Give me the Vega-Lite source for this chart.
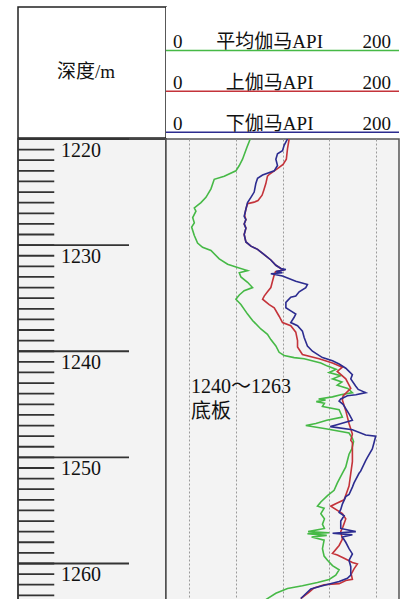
{
  "$schema": "https://vega.github.io/schema/vega-lite/v6.json",
  "padding": {"left": 16, "top": 6, "right": 2, "bottom": 0},
  "background": "white",
  "spacing": -2,
  "config": {
    "view": {"stroke": "#333", "strokeWidth": 1.5},
    "concat": {"spacing": 0},
    "text": {"font": "Liberation Serif, Noto Sans CJK SC", "color": "#111"}
  },
  "datasets": {
    "headers": [
      {"curve": "平均伽马API", "min": 0, "max": 200},
      {"curve": "上伽马API", "min": 0, "max": 200},
      {"curve": "下伽马API", "min": 0, "max": 200}
    ],
    "ticks": [
      {"depth": 1220}, {"depth": 1221}, {"depth": 1222}, {"depth": 1223}, {"depth": 1224}, {"depth": 1225}, {"depth": 1226}, {"depth": 1227}, {"depth": 1228}, {"depth": 1229},
      {"depth": 1230}, {"depth": 1231}, {"depth": 1232}, {"depth": 1233}, {"depth": 1234}, {"depth": 1235}, {"depth": 1236}, {"depth": 1237}, {"depth": 1238}, {"depth": 1239},
      {"depth": 1240}, {"depth": 1241}, {"depth": 1242}, {"depth": 1243}, {"depth": 1244}, {"depth": 1245}, {"depth": 1246}, {"depth": 1247}, {"depth": 1248}, {"depth": 1249},
      {"depth": 1250}, {"depth": 1251}, {"depth": 1252}, {"depth": 1253}, {"depth": 1254}, {"depth": 1255}, {"depth": 1256}, {"depth": 1257}, {"depth": 1258}, {"depth": 1259},
      {"depth": 1260}, {"depth": 1261}, {"depth": 1262}, {"depth": 1263}
    ],
    "curves": [
      {"curve": "平均伽马API", "depth": 1220.0, "api": 72.3},
      {"curve": "平均伽马API", "depth": 1220.8, "api": 69.4},
      {"curve": "平均伽马API", "depth": 1221.9, "api": 65.7},
      {"curve": "平均伽马API", "depth": 1222.5, "api": 62.9},
      {"curve": "平均伽马API", "depth": 1223.0, "api": 60.0},
      {"curve": "平均伽马API", "depth": 1223.5, "api": 50.0},
      {"curve": "平均伽马API", "depth": 1223.8, "api": 41.4},
      {"curve": "平均伽马API", "depth": 1224.7, "api": 38.6},
      {"curve": "平均伽马API", "depth": 1225.5, "api": 34.3},
      {"curve": "平均伽马API", "depth": 1226.0, "api": 30.0},
      {"curve": "平均伽马API", "depth": 1226.5, "api": 24.3},
      {"curve": "平均伽马API", "depth": 1226.8, "api": 25.7},
      {"curve": "平均伽马API", "depth": 1227.4, "api": 22.9},
      {"curve": "平均伽马API", "depth": 1227.9, "api": 24.3},
      {"curve": "平均伽马API", "depth": 1228.3, "api": 22.0},
      {"curve": "平均伽马API", "depth": 1229.1, "api": 24.3},
      {"curve": "平均伽马API", "depth": 1229.8, "api": 27.1},
      {"curve": "平均伽马API", "depth": 1230.2, "api": 31.4},
      {"curve": "平均伽马API", "depth": 1230.5, "api": 38.6},
      {"curve": "平均伽马API", "depth": 1231.3, "api": 45.7},
      {"curve": "平均伽马API", "depth": 1231.8, "api": 52.9},
      {"curve": "平均伽马API", "depth": 1232.1, "api": 61.4},
      {"curve": "平均伽马API", "depth": 1232.4, "api": 70.0},
      {"curve": "平均伽马API", "depth": 1232.6, "api": 62.9},
      {"curve": "平均伽马API", "depth": 1233.0, "api": 64.3},
      {"curve": "平均伽马API", "depth": 1233.5, "api": 70.0},
      {"curve": "平均伽马API", "depth": 1234.0, "api": 74.3},
      {"curve": "平均伽马API", "depth": 1234.3, "api": 67.1},
      {"curve": "平均伽马API", "depth": 1234.7, "api": 62.9},
      {"curve": "平均伽马API", "depth": 1235.1, "api": 60.0},
      {"curve": "平均伽马API", "depth": 1235.6, "api": 64.3},
      {"curve": "平均伽马API", "depth": 1236.5, "api": 70.0},
      {"curve": "平均伽马API", "depth": 1237.1, "api": 74.3},
      {"curve": "平均伽马API", "depth": 1237.9, "api": 81.4},
      {"curve": "平均伽马API", "depth": 1238.4, "api": 87.1},
      {"curve": "平均伽马API", "depth": 1238.9, "api": 90.0},
      {"curve": "平均伽马API", "depth": 1239.5, "api": 94.3},
      {"curve": "平均伽马API", "depth": 1240.1, "api": 97.1},
      {"curve": "平均伽马API", "depth": 1240.4, "api": 101.4},
      {"curve": "平均伽马API", "depth": 1240.6, "api": 110.0},
      {"curve": "平均伽马API", "depth": 1240.7, "api": 118.6},
      {"curve": "平均伽马API", "depth": 1241.1, "api": 132.9},
      {"curve": "平均伽马API", "depth": 1241.4, "api": 138.6},
      {"curve": "平均伽马API", "depth": 1241.7, "api": 146.0},
      {"curve": "平均伽马API", "depth": 1242.0, "api": 140.0},
      {"curve": "平均伽马API", "depth": 1242.3, "api": 150.0},
      {"curve": "平均伽马API", "depth": 1242.6, "api": 143.0},
      {"curve": "平均伽马API", "depth": 1242.9, "api": 151.0},
      {"curve": "平均伽马API", "depth": 1243.2, "api": 147.0},
      {"curve": "平均伽马API", "depth": 1243.5, "api": 156.0},
      {"curve": "平均伽马API", "depth": 1243.9, "api": 160.0},
      {"curve": "平均伽马API", "depth": 1244.1, "api": 150.0},
      {"curve": "平均伽马API", "depth": 1244.3, "api": 142.9},
      {"curve": "平均伽马API", "depth": 1244.5, "api": 131.0},
      {"curve": "平均伽马API", "depth": 1244.6, "api": 137.0},
      {"curve": "平均伽马API", "depth": 1244.75, "api": 129.0},
      {"curve": "平均伽马API", "depth": 1244.9, "api": 136.0},
      {"curve": "平均伽马API", "depth": 1245.2, "api": 134.3},
      {"curve": "平均伽马API", "depth": 1245.5, "api": 148.6},
      {"curve": "平均伽马API", "depth": 1246.2, "api": 151.4},
      {"curve": "平均伽马API", "depth": 1246.5, "api": 138.0},
      {"curve": "平均伽马API", "depth": 1246.8, "api": 128.6},
      {"curve": "平均伽马API", "depth": 1247.0, "api": 120.0},
      {"curve": "平均伽马API", "depth": 1247.3, "api": 137.1},
      {"curve": "平均伽马API", "depth": 1247.7, "api": 157.1},
      {"curve": "平均伽马API", "depth": 1248.2, "api": 160.0},
      {"curve": "平均伽马API", "depth": 1248.5, "api": 161.0},
      {"curve": "平均伽马API", "depth": 1249.2, "api": 159.5},
      {"curve": "平均伽马API", "depth": 1249.7, "api": 157.1},
      {"curve": "平均伽马API", "depth": 1250.9, "api": 154.3},
      {"curve": "平均伽马API", "depth": 1251.8, "api": 150.0},
      {"curve": "平均伽马API", "depth": 1252.4, "api": 147.1},
      {"curve": "平均伽马API", "depth": 1253.1, "api": 144.3},
      {"curve": "平均伽马API", "depth": 1253.6, "api": 138.6},
      {"curve": "平均伽马API", "depth": 1254.2, "api": 132.9},
      {"curve": "平均伽马API", "depth": 1254.6, "api": 130.0},
      {"curve": "平均伽马API", "depth": 1254.8, "api": 135.7},
      {"curve": "平均伽马API", "depth": 1255.3, "api": 132.9},
      {"curve": "平均伽马API", "depth": 1255.8, "api": 136.0},
      {"curve": "平均伽马API", "depth": 1256.3, "api": 134.3},
      {"curve": "平均伽马API", "depth": 1256.7, "api": 136.0},
      {"curve": "平均伽马API", "depth": 1257.0, "api": 122.0},
      {"curve": "平均伽马API", "depth": 1257.1, "api": 140.0},
      {"curve": "平均伽马API", "depth": 1257.2, "api": 121.4},
      {"curve": "平均伽马API", "depth": 1257.35, "api": 138.0},
      {"curve": "平均伽马API", "depth": 1257.5, "api": 125.0},
      {"curve": "平均伽马API", "depth": 1257.8, "api": 135.7},
      {"curve": "平均伽马API", "depth": 1258.6, "api": 134.3},
      {"curve": "平均伽马API", "depth": 1259.3, "api": 135.7},
      {"curve": "平均伽马API", "depth": 1259.7, "api": 138.6},
      {"curve": "平均伽马API", "depth": 1260.2, "api": 142.9},
      {"curve": "平均伽马API", "depth": 1260.6, "api": 148.6},
      {"curve": "平均伽马API", "depth": 1261.1, "api": 145.7},
      {"curve": "平均伽马API", "depth": 1261.5, "api": 140.0},
      {"curve": "平均伽马API", "depth": 1261.8, "api": 130.0},
      {"curve": "平均伽马API", "depth": 1262.1, "api": 117.1},
      {"curve": "平均伽马API", "depth": 1262.35, "api": 104.3},
      {"curve": "平均伽马API", "depth": 1262.8, "api": 94.3},
      {"curve": "平均伽马API", "depth": 1263.4, "api": 85.7},

      {"curve": "上伽马API", "depth": 1220.0, "api": 105.7},
      {"curve": "上伽马API", "depth": 1220.9, "api": 104.3},
      {"curve": "上伽马API", "depth": 1221.9, "api": 103.3},
      {"curve": "上伽马API", "depth": 1222.4, "api": 100.5},
      {"curve": "上伽马API", "depth": 1222.8, "api": 95.7},
      {"curve": "上伽马API", "depth": 1223.3, "api": 89.0},
      {"curve": "上伽马API", "depth": 1223.5, "api": 87.1},
      {"curve": "上伽马API", "depth": 1224.2, "api": 85.7},
      {"curve": "上伽马API", "depth": 1224.8, "api": 84.0},
      {"curve": "上伽马API", "depth": 1225.3, "api": 82.5},
      {"curve": "上伽马API", "depth": 1225.8, "api": 79.0},
      {"curve": "上伽马API", "depth": 1225.95, "api": 75.7},
      {"curve": "上伽马API", "depth": 1226.1, "api": 70.0},
      {"curve": "上伽马API", "depth": 1226.6, "api": 68.6},
      {"curve": "上伽马API", "depth": 1227.2, "api": 67.5},
      {"curve": "上伽马API", "depth": 1227.6, "api": 68.6},
      {"curve": "上伽马API", "depth": 1228.0, "api": 67.1},
      {"curve": "上伽马API", "depth": 1228.4, "api": 68.6},
      {"curve": "上伽马API", "depth": 1229.0, "api": 67.1},
      {"curve": "上伽马API", "depth": 1229.7, "api": 68.6},
      {"curve": "上伽马API", "depth": 1230.1, "api": 72.9},
      {"curve": "上伽马API", "depth": 1230.4, "api": 78.6},
      {"curve": "上伽马API", "depth": 1230.9, "api": 84.3},
      {"curve": "上伽马API", "depth": 1231.4, "api": 90.0},
      {"curve": "上伽马API", "depth": 1231.9, "api": 94.3},
      {"curve": "上伽马API", "depth": 1232.2, "api": 98.6},
      {"curve": "上伽马API", "depth": 1232.35, "api": 100.5},
      {"curve": "上伽马API", "depth": 1232.5, "api": 94.0},
      {"curve": "上伽马API", "depth": 1232.8, "api": 92.9},
      {"curve": "上伽马API", "depth": 1233.4, "api": 91.4},
      {"curve": "上伽马API", "depth": 1234.0, "api": 90.0},
      {"curve": "上伽马API", "depth": 1234.4, "api": 87.1},
      {"curve": "上伽马API", "depth": 1234.8, "api": 84.3},
      {"curve": "上伽马API", "depth": 1235.1, "api": 82.9},
      {"curve": "上伽马API", "depth": 1235.6, "api": 88.6},
      {"curve": "上伽马API", "depth": 1235.9, "api": 92.9},
      {"curve": "上伽马API", "depth": 1236.7, "api": 97.1},
      {"curve": "上伽马API", "depth": 1237.3, "api": 100.0},
      {"curve": "上伽马API", "depth": 1237.6, "api": 107.1},
      {"curve": "上伽马API", "depth": 1238.2, "api": 111.4},
      {"curve": "上伽马API", "depth": 1239.0, "api": 112.9},
      {"curve": "上伽马API", "depth": 1239.6, "api": 112.9},
      {"curve": "上伽马API", "depth": 1240.3, "api": 117.1},
      {"curve": "上伽马API", "depth": 1240.7, "api": 131.4},
      {"curve": "上伽马API", "depth": 1241.1, "api": 142.9},
      {"curve": "上伽马API", "depth": 1241.5, "api": 151.4},
      {"curve": "上伽马API", "depth": 1241.9, "api": 147.0},
      {"curve": "上伽马API", "depth": 1242.6, "api": 154.3},
      {"curve": "上伽马API", "depth": 1243.5, "api": 158.6},
      {"curve": "上伽马API", "depth": 1244.2, "api": 152.0},
      {"curve": "上伽马API", "depth": 1244.6, "api": 151.4},
      {"curve": "上伽马API", "depth": 1245.6, "api": 154.3},
      {"curve": "上伽马API", "depth": 1246.8, "api": 157.1},
      {"curve": "上伽马API", "depth": 1247.8, "api": 160.0},
      {"curve": "上伽马API", "depth": 1248.4, "api": 158.6},
      {"curve": "上伽马API", "depth": 1248.6, "api": 160.0},
      {"curve": "上伽马API", "depth": 1250.4, "api": 160.0},
      {"curve": "上伽马API", "depth": 1251.5, "api": 158.6},
      {"curve": "上伽马API", "depth": 1252.7, "api": 157.1},
      {"curve": "上伽马API", "depth": 1254.0, "api": 152.9},
      {"curve": "上伽马API", "depth": 1254.3, "api": 147.0},
      {"curve": "上伽马API", "depth": 1254.6, "api": 141.4},
      {"curve": "上伽马API", "depth": 1255.0, "api": 147.1},
      {"curve": "上伽马API", "depth": 1255.3, "api": 151.4},
      {"curve": "上伽马API", "depth": 1255.8, "api": 154.3},
      {"curve": "上伽马API", "depth": 1256.5, "api": 152.0},
      {"curve": "上伽马API", "depth": 1257.0, "api": 150.0},
      {"curve": "上伽马API", "depth": 1257.7, "api": 151.4},
      {"curve": "上伽马API", "depth": 1258.3, "api": 148.6},
      {"curve": "上伽马API", "depth": 1259.05, "api": 142.9},
      {"curve": "上伽马API", "depth": 1259.2, "api": 147.1},
      {"curve": "上伽马API", "depth": 1259.5, "api": 152.9},
      {"curve": "上伽马API", "depth": 1259.9, "api": 160.0},
      {"curve": "上伽马API", "depth": 1260.05, "api": 164.3},
      {"curve": "上伽马API", "depth": 1260.5, "api": 161.4},
      {"curve": "上伽马API", "depth": 1261.0, "api": 159.0},
      {"curve": "上伽马API", "depth": 1261.5, "api": 160.0},
      {"curve": "上伽马API", "depth": 1261.6, "api": 154.3},
      {"curve": "上伽马API", "depth": 1261.9, "api": 148.6},
      {"curve": "上伽马API", "depth": 1262.0, "api": 135.7},
      {"curve": "上伽马API", "depth": 1262.3, "api": 127.1},
      {"curve": "上伽马API", "depth": 1262.7, "api": 122.9},
      {"curve": "上伽马API", "depth": 1263.3, "api": 115.7},

      {"curve": "下伽马API", "depth": 1220.0, "api": 104.3},
      {"curve": "下伽马API", "depth": 1220.6, "api": 101.4},
      {"curve": "下伽马API", "depth": 1221.1, "api": 100.0},
      {"curve": "下伽马API", "depth": 1221.4, "api": 95.7},
      {"curve": "下伽马API", "depth": 1221.9, "api": 94.3},
      {"curve": "下伽马API", "depth": 1222.5, "api": 95.7},
      {"curve": "下伽马API", "depth": 1223.0, "api": 92.9},
      {"curve": "下伽马API", "depth": 1223.4, "api": 82.9},
      {"curve": "下伽马API", "depth": 1223.7, "api": 78.6},
      {"curve": "下伽马API", "depth": 1224.2, "api": 77.1},
      {"curve": "下伽马API", "depth": 1225.0, "api": 75.7},
      {"curve": "下伽马API", "depth": 1225.5, "api": 72.9},
      {"curve": "下伽马API", "depth": 1226.0, "api": 70.0},
      {"curve": "下伽马API", "depth": 1226.6, "api": 68.6},
      {"curve": "下伽马API", "depth": 1227.3, "api": 67.1},
      {"curve": "下伽马API", "depth": 1227.6, "api": 68.6},
      {"curve": "下伽马API", "depth": 1228.0, "api": 67.1},
      {"curve": "下伽马API", "depth": 1228.4, "api": 68.6},
      {"curve": "下伽马API", "depth": 1229.0, "api": 67.1},
      {"curve": "下伽马API", "depth": 1229.7, "api": 68.6},
      {"curve": "下伽马API", "depth": 1230.1, "api": 72.9},
      {"curve": "下伽马API", "depth": 1230.4, "api": 78.6},
      {"curve": "下伽马API", "depth": 1230.9, "api": 84.3},
      {"curve": "下伽马API", "depth": 1231.4, "api": 90.0},
      {"curve": "下伽马API", "depth": 1231.9, "api": 94.3},
      {"curve": "下伽马API", "depth": 1232.2, "api": 98.6},
      {"curve": "下伽马API", "depth": 1232.3, "api": 102.9},
      {"curve": "下伽马API", "depth": 1232.5, "api": 94.3},
      {"curve": "下伽马API", "depth": 1232.6, "api": 100.0},
      {"curve": "下伽马API", "depth": 1232.7, "api": 90.0},
      {"curve": "下伽马API", "depth": 1232.9, "api": 100.0},
      {"curve": "下伽马API", "depth": 1233.4, "api": 111.4},
      {"curve": "下伽马API", "depth": 1233.7, "api": 121.4},
      {"curve": "下伽马API", "depth": 1234.0, "api": 120.0},
      {"curve": "下伽马API", "depth": 1234.4, "api": 114.3},
      {"curve": "下伽马API", "depth": 1234.8, "api": 111.4},
      {"curve": "下伽马API", "depth": 1234.9, "api": 107.1},
      {"curve": "下伽马API", "depth": 1235.4, "api": 102.9},
      {"curve": "下伽马API", "depth": 1235.9, "api": 102.9},
      {"curve": "下伽马API", "depth": 1236.2, "api": 107.1},
      {"curve": "下伽马API", "depth": 1236.5, "api": 111.4},
      {"curve": "下伽马API", "depth": 1236.8, "api": 110.0},
      {"curve": "下伽马API", "depth": 1237.3, "api": 107.1},
      {"curve": "下伽马API", "depth": 1237.6, "api": 112.9},
      {"curve": "下伽马API", "depth": 1238.1, "api": 117.1},
      {"curve": "下伽马API", "depth": 1238.7, "api": 118.6},
      {"curve": "下伽马API", "depth": 1239.5, "api": 121.4},
      {"curve": "下伽马API", "depth": 1240.0, "api": 125.7},
      {"curve": "下伽马API", "depth": 1240.6, "api": 134.3},
      {"curve": "下伽马API", "depth": 1240.9, "api": 142.9},
      {"curve": "下伽马API", "depth": 1241.2, "api": 148.6},
      {"curve": "下伽马API", "depth": 1241.6, "api": 154.3},
      {"curve": "下伽马API", "depth": 1241.9, "api": 157.1},
      {"curve": "下伽马API", "depth": 1242.2, "api": 160.0},
      {"curve": "下伽马API", "depth": 1242.6, "api": 158.6},
      {"curve": "下伽马API", "depth": 1243.3, "api": 162.9},
      {"curve": "下伽马API", "depth": 1243.6, "api": 165.0},
      {"curve": "下伽马API", "depth": 1243.9, "api": 171.4},
      {"curve": "下伽马API", "depth": 1244.1, "api": 163.0},
      {"curve": "下伽马API", "depth": 1244.2, "api": 155.7},
      {"curve": "下伽马API", "depth": 1244.5, "api": 150.0},
      {"curve": "下伽马API", "depth": 1244.7, "api": 148.6},
      {"curve": "下伽马API", "depth": 1245.0, "api": 152.0},
      {"curve": "下伽马API", "depth": 1245.9, "api": 157.1},
      {"curve": "下伽马API", "depth": 1246.5, "api": 160.0},
      {"curve": "下伽马API", "depth": 1246.95, "api": 146.0},
      {"curve": "下伽马API", "depth": 1247.1, "api": 141.0},
      {"curve": "下伽马API", "depth": 1247.4, "api": 160.0},
      {"curve": "下伽马API", "depth": 1247.9, "api": 171.4},
      {"curve": "下伽马API", "depth": 1248.0, "api": 180.0},
      {"curve": "下伽马API", "depth": 1248.6, "api": 178.6},
      {"curve": "下伽马API", "depth": 1249.2, "api": 177.1},
      {"curve": "下伽马API", "depth": 1250.0, "api": 172.9},
      {"curve": "下伽马API", "depth": 1250.3, "api": 171.4},
      {"curve": "下伽马API", "depth": 1251.3, "api": 167.1},
      {"curve": "下伽马API", "depth": 1251.5, "api": 165.7},
      {"curve": "下伽马API", "depth": 1252.4, "api": 161.4},
      {"curve": "下伽马API", "depth": 1252.8, "api": 160.0},
      {"curve": "下伽马API", "depth": 1253.5, "api": 157.1},
      {"curve": "下伽马API", "depth": 1253.7, "api": 154.3},
      {"curve": "下伽马API", "depth": 1254.4, "api": 151.4},
      {"curve": "下伽马API", "depth": 1254.9, "api": 150.0},
      {"curve": "下伽马API", "depth": 1255.2, "api": 148.6},
      {"curve": "下伽马API", "depth": 1255.5, "api": 152.9},
      {"curve": "下伽马API", "depth": 1256.0, "api": 150.0},
      {"curve": "下伽马API", "depth": 1256.7, "api": 150.0},
      {"curve": "下伽马API", "depth": 1257.0, "api": 162.9},
      {"curve": "下伽马API", "depth": 1257.15, "api": 143.0},
      {"curve": "下伽马API", "depth": 1257.3, "api": 160.0},
      {"curve": "下伽马API", "depth": 1257.5, "api": 151.4},
      {"curve": "下伽马API", "depth": 1258.0, "api": 154.3},
      {"curve": "下伽马API", "depth": 1258.6, "api": 157.1},
      {"curve": "下伽马API", "depth": 1259.1, "api": 160.0},
      {"curve": "下伽马API", "depth": 1259.7, "api": 157.1},
      {"curve": "下伽马API", "depth": 1260.3, "api": 158.6},
      {"curve": "下伽马API", "depth": 1261.1, "api": 158.6},
      {"curve": "下伽马API", "depth": 1261.4, "api": 155.7},
      {"curve": "下伽马API", "depth": 1261.7, "api": 148.6},
      {"curve": "下伽马API", "depth": 1262.1, "api": 134.3},
      {"curve": "下伽马API", "depth": 1262.4, "api": 124.3},
      {"curve": "下伽马API", "depth": 1263.3, "api": 115.7}
    ]
  },
  "vconcat": [
    {
      "spacing": 0,
      "bounds": "flush",
      "hconcat": [
        {
          "width": 148,
          "height": 131,
          "view": {"stroke": "#222", "strokeWidth": 1.5, "fill": "white"},
          "data": {"values": [{"title": "深度/m"}]},
          "mark": {"type": "text", "fontSize": 19, "dx": -6, "dy": -1, "baseline": "middle", "align": "center"},
          "encoding": {"text": {"field": "title"}}
        },
        {
          "width": 233,
          "height": 131,
          "view": {"stroke": null, "fill": "white"},
          "data": {"name": "headers"},
          "encoding": {
            "y": {
              "field": "curve",
              "type": "nominal",
              "sort": ["平均伽马API", "上伽马API", "下伽马API"],
              "bandPosition": 1,
              "scale": {"paddingInner": 0, "paddingOuter": 0.1, "align": 0.3},
              "axis": null
            }
          },
          "layer": [
            {
              "mark": {"type": "rule", "strokeWidth": 1.5},
              "encoding": {
                "x": {"datum": 0, "type": "quantitative", "scale": {"domain": [0, 200], "nice": false}, "axis": null},
                "x2": {"datum": 200},
                "color": {
                  "field": "curve",
                  "type": "nominal",
                  "scale": {"domain": ["平均伽马API", "上伽马API", "下伽马API"], "range": ["#46b946", "#c4333a", "#2c2c90"]},
                  "legend": null
                }
              }
            },
            {
              "mark": {"type": "text", "fontSize": 19, "baseline": "alphabetic", "align": "center", "dy": -2},
              "encoding": {
                "x": {"datum": 89, "type": "quantitative"},
                "text": {"field": "curve"}
              }
            },
            {
              "mark": {"type": "text", "fontSize": 19, "baseline": "alphabetic", "align": "left", "dx": 7, "dy": -2},
              "encoding": {
                "x": {"field": "min", "type": "quantitative"},
                "text": {"field": "min"}
              }
            },
            {
              "mark": {"type": "text", "fontSize": 19, "baseline": "alphabetic", "align": "right", "dx": -8, "dy": -2},
              "encoding": {
                "x": {"field": "max", "type": "quantitative"},
                "text": {"field": "max"}
              }
            }
          ]
        }
      ]
    },
    {
      "spacing": 0,
      "bounds": "flush",
      "hconcat": [
        {
          "width": 148,
          "height": 461,
          "view": {"stroke": "#444", "strokeWidth": 2, "fill": "#f3f3f3"},
          "data": {"name": "ticks"},
          "encoding": {
            "y": {"field": "depth", "type": "quantitative", "scale": {"domain": [1220, 1263.44], "reverse": true, "nice": false, "zero": false}, "axis": null}
          },
          "layer": [
            {
              "mark": {"type": "rule", "color": "#333", "strokeWidth": 1.8},
              "encoding": {
                "x": {"datum": 0, "type": "quantitative", "scale": {"domain": [0, 1], "nice": false}, "axis": null},
                "x2": {"datum": 0.245}
              }
            },
            {
              "transform": [{"filter": "datum.depth % 10 === 0"}],
              "mark": {"type": "rule", "color": "#333", "strokeWidth": 1.8},
              "encoding": {
                "x": {"datum": 0, "type": "quantitative"},
                "x2": {"datum": 0.75}
              }
            },
            {
              "transform": [{"filter": "datum.depth % 10 === 0"}],
              "mark": {"type": "text", "fontSize": 20, "align": "left", "baseline": "middle", "dy": 12},
              "encoding": {
                "x": {"datum": 0.29, "type": "quantitative"},
                "text": {"field": "depth", "type": "quantitative", "format": "d"}
              }
            }
          ]
        },
        {
          "width": 233,
          "height": 461,
          "view": {"stroke": "#555", "strokeWidth": 1.5, "fill": "#f3f3f3"},
          "layer": [
            {
              "data": {"name": "curves"},
              "mark": {"type": "line", "strokeWidth": 1.6, "clip": true},
              "encoding": {
                "x": {
                  "field": "api",
                  "type": "quantitative",
                  "scale": {"domain": [0, 200], "nice": false, "zero": false},
                  "axis": {"orient": "top", "values": [20, 40, 60, 80, 100, 120, 140, 160, 180], "grid": true, "gridDash": [2, 2], "gridColor": "#9a9a9a", "gridWidth": 1, "labels": false, "ticks": false, "domain": false, "title": null}
                },
                "y": {
                  "field": "depth",
                  "type": "quantitative",
                  "scale": {"domain": [1220, 1263.44], "reverse": true, "nice": false, "zero": false},
                  "axis": null
                },
                "color": {
                  "field": "curve",
                  "type": "nominal",
                  "scale": {"domain": ["平均伽马API", "上伽马API", "下伽马API"], "range": ["#46b946", "#c4333a", "#2c2c90"]},
                  "legend": null
                },
                "order": {"field": "depth", "type": "quantitative"}
              }
            },
            {
              "data": {"values": [{"note": ["1240～1263", "底板"]}]},
              "mark": {"type": "text", "fontSize": 20, "align": "left", "baseline": "alphabetic", "lineHeight": 25},
              "encoding": {
                "x": {"datum": 21.5, "type": "quantitative"},
                "y": {"datum": 1243.9, "type": "quantitative"},
                "text": {"field": "note"}
              }
            }
          ]
        }
      ]
    }
  ]
}
